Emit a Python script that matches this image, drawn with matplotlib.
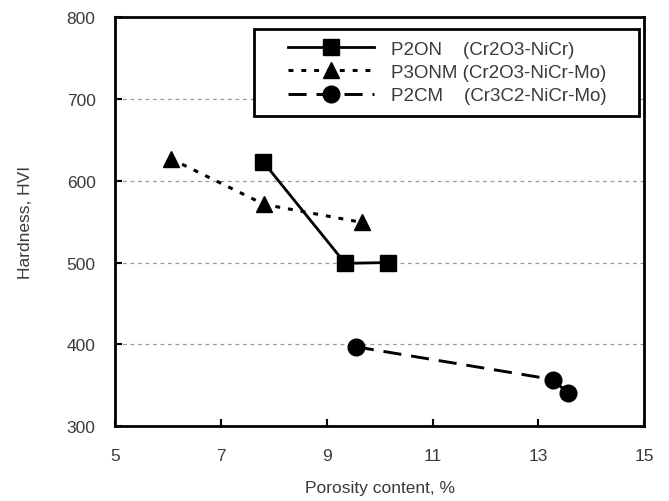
#hardness vs porosity chart
import matplotlib.pyplot as plt
from matplotlib.legend_handler import HandlerLine2D

plt.rcParams['font.family'] = ['Liberation Sans', 'DejaVu Sans']

# data
p2on_x = [7.8, 9.35, 10.15]
p2on_y = [623, 499, 500]
p3onm_x = [6.05, 7.82, 9.67]
p3onm_y = [627, 571, 549]
p2cm_x = [9.55, 13.28, 13.56]
p2cm_y = [397, 357, 340]

labels = ["P2ON    (Cr2O3-NiCr)    ", "P3ONM (Cr2O3-NiCr-Mo)    ", "P2CM    (Cr3C2-NiCr-Mo)    "]
xticks = [5, 7, 9, 11, 13, 15]
yticks = [300, 400, 500, 600, 700, 800]
grid_levels = [400, 500, 600, 700]

txt = '#3a3a3a'

fig = plt.figure(figsize=(6.69, 5.02), dpi=100)
ax = fig.add_axes([0.172, 0.149, 0.791, 0.815])

#grid lines (only interior levels)
for g in grid_levels:
	ax.axhline(g, color='#999999', lw=0.9, ls=(0, (3, 3)), zorder=0)

l1, = ax.plot(p2on_x, p2on_y, color='black', lw=2, ls='-', marker='s', ms=11.5,
	label=labels[0], zorder=3)
l2, = ax.plot(p3onm_x, p3onm_y, color='black', lw=2.2, ls=(0, (1.6, 2.6)), marker='^', ms=12,
	label=labels[1], zorder=3)
l3, = ax.plot(p2cm_x, p2cm_y, color='black', lw=2.1, ls=(0, (6.2, 3.4)), marker='o', ms=12,
	label=labels[2], zorder=3)

ax.set_xlim(5, 15)
ax.set_ylim(300, 800)
ax.set_xticks(xticks)
ax.set_yticks(yticks)
ax.tick_params(direction='in', length=5, width=1.5, labelsize=12.5, labelcolor=txt,
	top=False, right=False)
ax.tick_params(axis='y', pad=14)
ax.tick_params(axis='x', pad=16)
for s in ax.spines.values():
	s.set_linewidth(2)

ax.set_xlabel("Porosity content, %", fontsize=12.5, color=txt, labelpad=12)
ax.set_ylabel("Hardness, HVI", fontsize=12.5, color=txt, labelpad=24)

hmap = {l: HandlerLine2D(xpad=1.2) for l in (l1, l2, l3)}
leg = ax.legend(loc='upper right', bbox_to_anchor=(0.9905, 0.971), borderaxespad=0,
	fancybox=False, edgecolor='black', fontsize=13.5, handlelength=5.8,
	handletextpad=0.9, labelspacing=0.33, borderpad=0.62, framealpha=1,
	handler_map=hmap)
leg.get_frame().set_linewidth(2)
for t in leg.get_texts():
	t.set_color(txt)

fig.savefig("out.png", dpi=100)
